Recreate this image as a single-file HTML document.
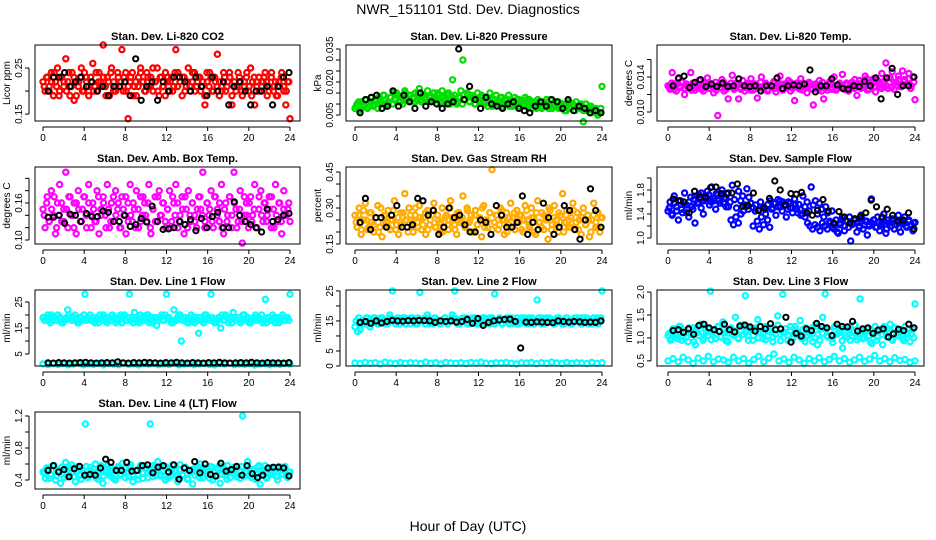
<!DOCTYPE html>
<html><head><meta charset="utf-8">
<style>
html,body{margin:0;padding:0;background:#fff;}
svg{display:block;font-family:"Liberation Sans",Arial,sans-serif;}
</style></head>
<body>
<svg id="chart" width="936" height="540" viewBox="0 0 936 540">
<text x="468" y="14" text-anchor="middle" font-size="14">NWR_151101  Std. Dev. Diagnostics</text>
<text x="468" y="531" text-anchor="middle" font-size="14">Hour of Day (UTC)</text>
</svg>
<script>
// ---- data ----
const hourTicks = [0,4,8,12,16,20,24];
const co2Vals = [0.22,0.20,0.23,0.21,0.24,0.19,0.22,0.25,0.20,0.23,0.21,0.27,0.22,0.19,0.24,0.18,0.22,0.21,0.23,0.20,0.24,0.22,0.19,0.23,0.26,0.21,0.20,0.24,0.22,0.30,0.21,0.23,0.19,0.25,0.22,0.20,0.24,0.21,0.29,0.23,0.20,0.14,0.22,0.24,0.21,0.19,0.23,0.25,0.22,0.20,0.24,0.21,0.23,0.20,0.22,0.25,0.19,0.23,0.21,0.24,0.22,0.20,0.23,0.21,0.29,0.24,0.22,0.19,0.23,0.21,0.25,0.20,0.22,0.24,0.21,0.23,0.20,0.22,0.17,0.24,0.21,0.23,0.20,0.22,0.28,0.19,0.21,0.24,0.20,0.22,0.23,0.17,0.21,0.20,0.24,0.22,0.19,0.21,0.23,0.20,0.25,0.22,0.17,0.21,0.23,0.20,0.22,0.24,0.19,0.21,0.23,0.20,0.22,0.19,0.21,0.24,0.20,0.17,0.22,0.14];
const co2Vals2 = [0.21,0.23,0.20,0.22,0.24,0.21,0.19,0.23,0.22,0.20,0.24,0.21,0.23,0.19,0.22,0.25,0.20,0.23,0.21,0.22,0.20,0.24,0.22,0.21,0.23,0.19,0.22,0.24,0.20,0.21,0.23,0.22,0.20,0.24,0.21,0.23,0.19,0.22,0.21,0.24,0.22,0.20,0.23,0.21,0.25,0.22,0.20,0.23,0.21,0.19,0.23,0.22,0.20,0.24,0.21,0.22,0.23,0.20,0.22,0.21,0.24,0.20,0.22,0.23,0.21,0.19,0.22,0.24,0.20,0.23,0.21,0.22,0.20,0.23,0.21,0.24,0.19,0.22,0.21,0.23,0.20,0.22,0.24,0.21,0.19,0.23,0.22,0.20,0.21,0.23,0.22,0.20,0.24,0.21,0.19,0.22,0.23,0.21,0.20,0.22];
const co2Ref = [0.20,0.23,0.23,0.24,0.21,0.22,0.23,0.21,0.22,0.20,0.21,0.19,0.21,0.21,0.22,0.19,0.27,0.18,0.21,0.22,0.18,0.22,0.20,0.23,0.23,0.22,0.20,0.23,0.21,0.19,0.23,0.20,0.22,0.17,0.21,0.22,0.20,0.17,0.20,0.20,0.21,0.17,0.21,0.23,0.24];
const presVals = [0.008,0.010,0.007,0.011,0.009,0.012,0.008,0.010,0.013,0.009,0.011,0.008,0.012,0.010,0.014,0.009,0.011,0.013,0.010,0.012,0.015,0.011,0.013,0.010,0.016,0.012,0.014,0.011,0.013,0.015,0.012,0.017,0.011,0.014,0.012,0.016,0.013,0.011,0.015,0.012,0.014,0.010,0.016,0.013,0.011,0.015,0.012,0.021,0.014,0.010,0.013,0.016,0.030,0.012,0.015,0.011,0.014,0.013,0.010,0.015,0.012,0.014,0.011,0.013,0.009,0.015,0.012,0.010,0.014,0.011,0.013,0.009,0.012,0.010,0.014,0.011,0.009,0.013,0.010,0.012,0.011,0.009,0.013,0.010,0.012,0.008,0.011,0.009,0.012,0.010,0.008,0.011,0.009,0.010,0.012,0.008,0.010,0.009,0.011,0.008,0.010,0.007,0.009,0.011,0.008,0.010,0.007,0.009,0.008,0.010,0.002,0.008,0.007,0.009,0.006,0.008,0.007,0.005,0.006,0.018];
const presVals2 = [0.009,0.011,0.008,0.010,0.012,0.009,0.011,0.010,0.012,0.013,0.011,0.014,0.012,0.010,0.013,0.015,0.012,0.014,0.011,0.013,0.015,0.012,0.014,0.013,0.011,0.015,0.012,0.014,0.013,0.011,0.014,0.012,0.013,0.015,0.011,0.013,0.012,0.014,0.010,0.013,0.012,0.011,0.013,0.010,0.012,0.014,0.011,0.013,0.010,0.012,0.011,0.013,0.010,0.012,0.011,0.009,0.012,0.010,0.011,0.013,0.010,0.012,0.009,0.011,0.010,0.012,0.009,0.011,0.010,0.012,0.009,0.011,0.010,0.008,0.011,0.009,0.010,0.012,0.008,0.010,0.009,0.011,0.008,0.010,0.009,0.007,0.010,0.008,0.009,0.011,0.008,0.009,0.007,0.010,0.008,0.009,0.007,0.008,0.006,0.008];
const presRef = [0.006,0.012,0.013,0.014,0.008,0.009,0.016,0.009,0.014,0.011,0.008,0.015,0.009,0.011,0.010,0.008,0.010,0.011,0.035,0.012,0.018,0.012,0.008,0.013,0.010,0.009,0.008,0.010,0.011,0.008,0.007,0.006,0.009,0.011,0.009,0.012,0.011,0.008,0.012,0.007,0.009,0.008,0.006,0.007,0.006];
const tempVals = [0.0130,0.0126,0.0145,0.0132,0.0124,0.0138,0.0128,0.0134,0.0120,0.0130,0.0127,0.0145,0.0133,0.0125,0.0131,0.0136,0.0128,0.0124,0.0132,0.0139,0.0127,0.0130,0.0122,0.0134,0.0096,0.0128,0.0137,0.0124,0.0131,0.0115,0.0129,0.0142,0.0126,0.0133,0.0115,0.0128,0.0136,0.0124,0.0131,0.0127,0.0138,0.0125,0.0132,0.0116,0.0129,0.0140,0.0126,0.0133,0.0124,0.0130,0.0128,0.0135,0.0123,0.0131,0.0141,0.0126,0.0132,0.0128,0.0136,0.0124,0.0130,0.0113,0.0133,0.0127,0.0138,0.0125,0.0131,0.0122,0.0134,0.0127,0.0108,0.0132,0.0126,0.0136,0.0124,0.0115,0.0130,0.0128,0.0135,0.0126,0.0140,0.0125,0.0131,0.0128,0.0143,0.0126,0.0133,0.0124,0.0131,0.0129,0.0137,0.0119,0.0132,0.0127,0.0135,0.0141,0.0125,0.0133,0.0130,0.0138,0.0123,0.0136,0.0128,0.0144,0.0132,0.0156,0.0127,0.0139,0.0146,0.0126,0.0134,0.0141,0.0129,0.0147,0.0137,0.0131,0.0144,0.0127,0.0140,0.0114];
const tempVals2 = [0.0128,0.0133,0.0126,0.0131,0.0129,0.0135,0.0127,0.0132,0.0130,0.0125,0.0133,0.0128,0.0131,0.0126,0.0134,0.0129,0.0127,0.0132,0.0130,0.0125,0.0131,0.0128,0.0134,0.0126,0.0130,0.0133,0.0127,0.0129,0.0132,0.0126,0.0130,0.0128,0.0133,0.0125,0.0131,0.0129,0.0127,0.0134,0.0128,0.0131,0.0126,0.0130,0.0133,0.0127,0.0129,0.0132,0.0125,0.0130,0.0128,0.0134,0.0127,0.0131,0.0129,0.0126,0.0133,0.0128,0.0130,0.0132,0.0126,0.0129,0.0131,0.0127,0.0134,0.0129,0.0125,0.0132,0.0128,0.0130,0.0127,0.0133,0.0129,0.0126,0.0131,0.0128,0.0134,0.0127,0.0130,0.0136,0.0128,0.0132,0.0138,0.0126,0.0133,0.0129,0.0137,0.0131,0.0127,0.0135,0.0130,0.0139,0.0128,0.0134,0.0131,0.0137,0.0129,0.0135,0.0132,0.0138,0.0130,0.0134];
const tempRef = [0.0130,0.0139,0.0141,0.0128,0.0134,0.0137,0.0129,0.0132,0.0129,0.0133,0.0129,0.0130,0.0138,0.0130,0.0129,0.0130,0.0124,0.0130,0.0130,0.0139,0.0127,0.0130,0.0131,0.0130,0.0132,0.0148,0.0123,0.0130,0.0130,0.0138,0.0131,0.0127,0.0126,0.0130,0.0129,0.0135,0.0130,0.0139,0.0115,0.0139,0.0150,0.0120,0.0130,0.0130,0.0140];
const boxVals = [0.15,0.12,0.17,0.13,0.18,0.14,0.11,0.16,0.19,0.13,0.15,0.21,0.12,0.17,0.14,0.16,0.11,0.18,0.13,0.15,0.17,0.12,0.19,0.14,0.16,0.13,0.18,0.11,0.15,0.17,0.14,0.19,0.12,0.16,0.13,0.18,0.15,0.12,0.17,0.14,0.11,0.16,0.19,0.13,0.15,0.18,0.12,0.17,0.14,0.16,0.13,0.19,0.11,0.15,0.17,0.13,0.18,0.14,0.16,0.12,0.15,0.18,0.13,0.16,0.19,0.12,0.14,0.17,0.11,0.15,0.18,0.13,0.16,0.14,0.12,0.17,0.15,0.21,0.13,0.16,0.14,0.18,0.12,0.17,0.15,0.13,0.19,0.11,0.16,0.14,0.17,0.12,0.21,0.15,0.13,0.18,0.095,0.14,0.16,0.12,0.17,0.14,0.19,0.12,0.15,0.18,0.13,0.16,0.14,0.17,0.12,0.15,0.19,0.13,0.16,0.11,0.18,0.14,0.15,0.13];
const boxVals2 = [0.14,0.16,0.13,0.15,0.17,0.12,0.14,0.16,0.13,0.15,0.17,0.14,0.12,0.16,0.15,0.13,0.17,0.14,0.16,0.12,0.15,0.13,0.17,0.14,0.16,0.12,0.15,0.13,0.17,0.14,0.16,0.12,0.15,0.17,0.13,0.14,0.16,0.12,0.15,0.13,0.17,0.14,0.16,0.12,0.15,0.13,0.17,0.14,0.16,0.13,0.15,0.12,0.17,0.14,0.16,0.13,0.15,0.17,0.12,0.14,0.16,0.13,0.15,0.17,0.14,0.12,0.16,0.15,0.13,0.17,0.14,0.16,0.12,0.15,0.13,0.17,0.14,0.16,0.12,0.15,0.13,0.17,0.14,0.16,0.13,0.15,0.12,0.17,0.14,0.16,0.13,0.15,0.17,0.12,0.14,0.16,0.13,0.15,0.14,0.16];
const boxRef = [0.137,0.137,0.14,0.127,0.142,0.14,0.13,0.143,0.138,0.138,0.147,0.145,0.13,0.13,0.14,0.122,0.125,0.135,0.129,0.155,0.13,0.117,0.118,0.12,0.13,0.125,0.133,0.115,0.135,0.12,0.138,0.145,0.12,0.12,0.162,0.14,0.13,0.125,0.12,0.113,0.15,0.13,0.133,0.14,0.143];
const rhVals = [0.27,0.22,0.30,0.19,0.25,0.32,0.21,0.28,0.24,0.20,0.26,0.31,0.22,0.18,0.27,0.24,0.29,0.21,0.25,0.33,0.23,0.19,0.28,0.26,0.36,0.22,0.30,0.25,0.20,0.27,0.24,0.31,0.21,0.26,0.19,0.29,0.23,0.27,0.32,0.22,0.25,0.20,0.30,0.24,0.27,0.21,0.33,0.26,0.23,0.19,0.28,0.25,0.35,0.22,0.30,0.24,0.27,0.20,0.29,0.23,0.26,0.18,0.31,0.25,0.22,0.28,0.46,0.24,0.27,0.21,0.30,0.25,0.19,0.28,0.23,0.32,0.26,0.21,0.29,0.24,0.27,0.20,0.31,0.25,0.22,0.30,0.26,0.19,0.33,0.24,0.28,0.21,0.26,0.17,0.29,0.23,0.31,0.25,0.20,0.27,0.36,0.24,0.29,0.22,0.26,0.32,0.21,0.28,0.25,0.19,0.30,0.23,0.27,0.18,0.25,0.32,0.22,0.28,0.20,0.26];
const rhVals2 = [0.24,0.27,0.21,0.29,0.25,0.22,0.28,0.23,0.26,0.20,0.30,0.24,0.27,0.22,0.25,0.29,0.21,0.26,0.23,0.28,0.25,0.20,0.27,0.24,0.30,0.22,0.26,0.23,0.28,0.21,0.25,0.29,0.22,0.27,0.24,0.20,0.26,0.23,0.30,0.25,0.21,0.28,0.24,0.26,0.22,0.29,0.25,0.20,0.27,0.23,0.26,0.30,0.22,0.25,0.28,0.21,0.24,0.27,0.23,0.29,0.25,0.20,0.26,0.22,0.28,0.24,0.27,0.21,0.25,0.29,0.23,0.26,0.20,0.28,0.24,0.22,0.27,0.25,0.30,0.21,0.26,0.23,0.28,0.24,0.20,0.27,0.25,0.22,0.29,0.24,0.21,0.26,0.28,0.23,0.25,0.20,0.27,0.24,0.22,0.26];
const rhRef = [0.24,0.34,0.21,0.26,0.26,0.22,0.27,0.31,0.22,0.22,0.23,0.34,0.33,0.27,0.29,0.19,0.22,0.30,0.26,0.27,0.23,0.20,0.20,0.25,0.24,0.19,0.31,0.27,0.22,0.22,0.24,0.35,0.19,0.24,0.21,0.32,0.26,0.19,0.22,0.31,0.29,0.21,0.17,0.25,0.38,0.29,0.22];
const flowVals = [1.45,1.60,1.38,1.70,1.52,1.30,1.62,1.42,1.75,1.55,1.35,1.68,1.48,1.25,1.58,1.72,1.50,1.40,1.65,1.78,1.55,1.85,1.62,1.48,1.72,1.58,1.80,1.66,1.52,1.75,1.60,1.88,1.64,1.50,1.78,1.62,1.70,1.55,1.82,1.68,1.58,1.20,1.45,1.28,1.15,1.35,1.22,1.40,1.30,1.18,1.48,1.58,1.38,1.52,1.62,1.45,1.55,1.35,1.60,1.50,1.42,1.65,1.48,1.56,1.38,1.70,1.52,1.60,1.45,1.85,1.55,1.62,1.40,1.58,1.48,1.35,1.52,1.42,1.25,1.45,1.15,1.30,1.08,1.22,1.35,1.12,1.28,1.18,0.95,1.25,1.32,1.10,1.20,1.38,1.15,1.28,1.05,1.22,1.65,1.30,1.18,1.35,1.12,1.25,1.40,1.08,1.30,1.20,1.32,1.15,1.28,1.38,1.10,1.24,1.35,1.18,1.30,1.22,1.12,1.26];
const flowVals2 = [1.50,1.40,1.58,1.45,1.62,1.48,1.55,1.42,1.60,1.52,1.65,1.70,1.58,1.75,1.62,1.68,1.72,1.60,1.66,1.74,1.62,1.70,1.58,1.66,1.52,1.30,1.22,1.35,1.25,1.40,1.45,1.52,1.48,1.58,1.50,1.55,1.46,1.60,1.52,1.48,1.56,1.62,1.50,1.58,1.64,1.52,1.60,1.55,1.48,1.58,1.50,1.55,1.42,1.48,1.40,1.35,1.25,1.20,1.15,1.22,1.18,1.12,1.25,1.20,1.15,1.28,1.18,1.22,1.10,1.25,1.30,1.20,1.28,1.35,1.22,1.30,1.25,1.18,1.32,1.22,1.28,1.20,1.25,1.30,1.18,1.26,1.22,1.28,1.15,1.25,1.20,1.30,1.22,1.18,1.26,1.24,1.20,1.28,1.22,1.25];
const flowRef = [1.65,1.62,1.60,1.42,1.78,1.68,1.68,1.84,1.85,1.74,1.74,1.75,1.90,1.53,1.54,1.75,1.46,1.50,1.66,1.95,1.80,1.55,1.74,1.73,1.76,1.42,1.38,1.46,1.64,1.45,1.25,1.44,1.35,1.25,1.32,1.35,1.42,1.63,1.52,1.35,1.48,1.38,1.28,1.30,1.42,1.15];
const line1Vals = [19,18,20,17,19,18,20,19,17,18,22,19,18,20,17,19,18,28,19,20,18,17,19,20,18,19,17,18,20,19,18,19,17,20,18,28,19,21,18,17,19,18,20,17,19,18,16,19,20,18,28,19,17,22,18,20,10,19,18,17,20,18,19,13,18,17,20,19,28,18,17,19,15,18,20,17,19,21,18,19,17,20,18,19,17,18,20,19,18,17,26,19,18,20,17,19,18,20,18,19,28];
const line1Vals2 = [18,19,18,20,19,18,19,17,18,19,20,18,19,18,17,19,20,18,19,18,19,18,17,19,20,18,19,18,19,17,18,20,19,18,19,18,17,19,18,20,18,19,20,18,17,19,18,19,18,20,19,18,17,18,19,20,18,19,17,18,19,17,18,19,18,20,19,18,19,17,18,19,20,18,19,18,17,19,18,19,18,20,19,17,18,19,18,19,20,18,17,19,18,19,18,17,19,18,19,18];
const line1Low = [1.2,0.9,1.4,1.0,1.3,0.8,1.1,1.5,0.9,1.2,1.0,1.4,0.8,1.3,1.1,0.9,1.5,1.0,1.2,0.8,1.3,1.1,1.4,0.9,1.2,1.0,1.5,0.8,1.1,1.3,0.9,1.2,1.4,1.0,0.8,1.3,1.1,1.5,0.9,1.2,1.0,1.4,0.8,1.1,1.3,0.9,1.2,1.0,1.4,1.1];
const line1Ref = [1.6,1.5,1.7,1.6,1.5,1.6,1.7,1.8,1.6,1.5,1.6,1.7,1.6,2.0,1.6,1.5,1.7,1.6,1.8,1.7,1.6,1.5,1.7,1.6,1.8,1.6,1.5,1.7,1.6,1.5,1.7,1.6,1.8,1.6,1.5,1.6,1.7,1.6,1.8,1.6,1.5,1.7,1.6,1.6,1.5,1.7];
const line2Vals = [13,11.5,12,15,14,16,13,15,16,14,15,16,15,14,17,25,15,16,14,15,16,15,14,16,15,14,24.5,15,16,17,14,15,16,15,14,15,16,14,15,17,25,15,14,16,15,16,14,15,16,15,14,15,16,15,14,16,24,15,16,14,15,16,15,14,15,16,14,15,16,15,14,16,15,22,15,16,14,15,16,15,14,16,15,14,15,16,15,14,16,15,16,14,15,16,15,14,15,16,15,25];
const line2Vals2 = [15,16,14,15,16,15,14,16,15,14,16,15,14,15,16,15,14,16,15,16,14,15,16,15,14,16,15,15,14,16,15,14,16,15,14,15,16,14,15,16,16,14,15,15,16,14,15,16,15,14,15,16,14,15,16,15,14,15,16,14,15,16,14,16,15,14,15,16,15,14,16,15,14,15,16,14,15,16,15,15,14,15,16,15,14,16,15,14,15,16,15,14,16,15,14,15,16,15,14,16];
const line2Low = [1.0,0.8,1.2,0.9,1.1,0.7,1.3,1.0,0.8,1.2,0.9,1.1,1.0,0.8,1.3,0.9,1.1,0.7,1.2,1.0,0.9,1.1,0.8,1.2,1.0,1.3,0.9,0.8,1.1,1.0,1.2,0.9,0.7,1.1,1.0,1.2,0.8,1.1,0.9,1.3,1.0,0.8,1.2,0.9,1.1,1.0,0.8,1.2,0.9,1.1];
const line2Ref = [14.5,14.8,14.2,15,14.3,14.8,15.2,15.0,14.9,15.1,15.0,15.2,15.1,15.0,14.5,15.0,14.8,15.0,14.6,14.8,15.5,14.2,15.8,13.5,14.5,15.0,15.3,15.5,15.6,14.8,6.0,14.6,14.5,14.7,14.6,14.5,14.4,15.0,14.8,14.6,14.8,14.7,14.5,14.6,14.5,15.0];
const line3Vals = [1.05,0.95,1.20,1.10,0.98,1.25,1.02,1.15,0.92,1.08,1.22,0.85,1.12,1.30,0.95,1.18,1.05,2.02,1.10,0.98,1.25,1.02,1.35,1.12,0.92,1.20,1.08,1.45,1.00,1.15,1.28,1.92,1.05,1.18,0.95,1.22,1.40,1.10,0.98,1.25,1.05,1.15,0.92,1.20,1.48,1.08,1.95,1.12,0.95,1.25,1.02,1.18,1.10,1.38,0.98,1.22,1.05,1.15,0.92,1.28,1.08,1.20,1.45,1.96,1.02,1.15,0.90,1.25,1.10,1.18,0.78,1.05,1.22,0.95,1.12,1.28,1.02,1.85,0.98,1.15,1.20,0.92,1.08,1.25,1.02,1.15,0.85,1.18,1.10,1.30,0.95,1.22,1.05,1.12,0.98,1.25,1.08,0.92,1.18,1.74];
const line3Vals2 = [1.10,0.98,1.20,1.05,1.25,0.95,1.15,1.02,1.22,1.08,0.92,1.18,1.05,1.28,1.00,1.12,1.20,0.96,1.15,1.08,1.25,1.02,1.18,0.94,1.10,1.22,1.05,1.15,0.98,1.28,1.08,1.12,0.95,1.20,1.05,1.18,1.00,1.25,1.10,0.96,1.15,1.22,1.02,1.08,1.28,0.94,1.12,1.20,1.05,1.16,0.98,1.25,1.10,1.02,1.18,0.92,1.15,1.08,1.22,1.00,0.85,0.95,1.10,1.20,1.05,1.15,0.98,1.25,1.08,1.12,0.94,1.22,1.02,1.18,1.05,1.28,0.96,1.10,1.15,1.00,1.20,1.05,0.88,1.12,0.95,1.18,1.08,1.25,1.02,1.15,0.98,1.22,1.10,1.05,1.18,0.94,1.12,1.20,1.08,1.00];
const line3Low = [0.50,0.55,0.48,0.58,0.52,0.45,0.56,0.50,0.60,0.48,0.54,0.52,0.47,0.58,0.50,0.55,0.45,0.53,0.60,0.48,0.56,0.65,0.50,0.54,0.47,0.58,0.52,0.45,0.55,0.50,0.57,0.48,0.53,0.60,0.50,0.55,0.47,0.52,0.58,0.49,0.54,0.62,0.50,0.55,0.48,0.57,0.51,0.53,0.47,0.50];
const line3Ref = [1.16,1.18,1.12,1.20,1.08,1.27,1.30,1.22,1.18,1.14,1.30,1.18,1.13,1.26,1.28,1.24,1.15,1.25,1.20,1.31,1.18,1.20,1.45,0.91,1.10,1.04,1.20,1.16,1.32,1.25,1.22,1.05,1.30,1.25,1.24,1.36,1.15,1.20,1.22,1.10,1.17,1.20,1.02,1.09,1.19,1.16,1.30,1.22];
const line4Vals = [0.50,0.42,0.55,0.46,0.58,0.40,0.52,0.36,0.48,0.62,0.44,0.55,0.50,0.38,0.57,0.46,0.52,1.10,0.43,0.56,0.48,0.60,0.41,0.53,0.36,0.50,0.58,0.45,0.52,0.40,0.55,0.47,0.61,0.43,0.50,0.56,0.38,0.52,0.46,0.58,0.42,0.54,0.49,1.10,0.44,0.57,0.63,0.47,0.52,0.40,0.55,0.45,0.59,0.50,0.38,0.53,0.46,0.56,0.42,0.51,0.35,0.55,0.48,0.60,0.43,0.52,0.47,0.57,0.40,0.50,0.54,0.36,0.53,0.46,0.58,0.43,0.51,0.48,0.55,0.42,1.20,0.50,0.63,0.46,0.53,0.41,0.56,0.35,0.50,0.58,0.44,0.52,0.47,0.55,0.40,0.53,0.48,0.57,0.43,0.50];
const line4Vals2 = [0.48,0.55,0.42,0.52,0.58,0.45,0.50,0.56,0.43,0.53,0.47,0.59,0.44,0.51,0.55,0.41,0.49,0.57,0.46,0.52,0.54,0.43,0.50,0.58,0.45,0.53,0.48,0.56,0.42,0.51,0.57,0.46,0.50,0.54,0.44,0.59,0.47,0.52,0.41,0.55,0.49,0.56,0.43,0.51,0.58,0.46,0.53,0.45,0.50,0.57,0.42,0.54,0.48,0.52,0.44,0.59,0.47,0.55,0.41,0.50,0.53,0.46,0.57,0.43,0.51,0.55,0.48,0.42,0.56,0.50,0.45,0.58,0.47,0.53,0.41,0.52,0.49,0.56,0.44,0.51,0.57,0.45,0.50,0.54,0.43,0.52,0.48,0.58,0.46,0.53,0.42,0.55,0.49,0.51,0.44,0.57,0.47,0.52,0.45,0.50];
const line4Ref = [0.52,0.58,0.50,0.53,0.44,0.54,0.57,0.46,0.47,0.46,0.55,0.66,0.62,0.52,0.52,0.62,0.51,0.52,0.58,0.59,0.49,0.56,0.58,0.50,0.59,0.41,0.55,0.52,0.63,0.49,0.60,0.47,0.45,0.61,0.51,0.53,0.57,0.46,0.58,0.48,0.43,0.46,0.55,0.56,0.56,0.55,0.45];

const panels = [
 {name:"co2",title:"Stan. Dev. Li-820 CO2",ylab:"Licor ppm",col:0,row:0,lo:0.135,hi:0.30,ticks:[0.15,0.20,0.25],labels:["0.15","","0.25"],series:[{v:co2Vals,c:"#ff0000"},{v:co2Vals2,c:"#ff0000",off:1},{v:co2Ref,c:"#000",ref:1}]},
 {name:"pressure",title:"Stan. Dev. Li-820 Pressure",ylab:"kPa",col:1,row:0,lo:0.0023,hi:0.0368,ticks:[0.005,0.010,0.015,0.020,0.025,0.030,0.035],labels:["0.005","","","0.020","","","0.035"],series:[{v:presVals,c:"#00dd00"},{v:presVals2,c:"#00dd00",off:1},{v:presRef,c:"#000",ref:1}]},
 {name:"licor-temp",title:"Stan. Dev. Li-820 Temp.",ylab:"degrees C",col:2,row:0,lo:0.00897,hi:0.01766,ticks:[0.010,0.012,0.014,0.016],labels:["0.010","","0.014",""],series:[{v:tempVals,c:"#ff00ff"},{v:tempVals2,c:"#ff00ff",off:1},{v:tempRef,c:"#000",ref:1}]},
 {name:"box-temp",title:"Stan. Dev. Amb. Box Temp.",ylab:"degrees C",col:0,row:1,lo:0.0935,hi:0.2184,ticks:[0.10,0.12,0.14,0.16,0.18,0.20],labels:["0.10","","","0.16","",""],series:[{v:boxVals,c:"#ff00ff"},{v:boxVals2,c:"#ff00ff",off:1},{v:boxRef,c:"#000",ref:1}]},
 {name:"gas-rh",title:"Stan. Dev. Gas Stream RH",ylab:"percent",col:1,row:1,lo:0.15,hi:0.471,ticks:[0.15,0.20,0.25,0.30,0.35,0.40,0.45],labels:["0.15","","","0.30","","","0.45"],series:[{v:rhVals,c:"#ffa500"},{v:rhVals2,c:"#ffb000",off:1},{v:rhRef,c:"#000",ref:1}]},
 {name:"sample-flow",title:"Stan. Dev. Sample Flow",ylab:"ml/min",col:2,row:1,lo:0.90,hi:2.183,ticks:[1.0,1.2,1.4,1.6,1.8,2.0],labels:["1.0","","1.4","","1.8",""],series:[{v:flowVals,c:"#0000ff"},{v:flowVals2,c:"#0000ff",off:1},{v:flowRef,c:"#000",ref:1}]},
 {name:"line1-flow",title:"Stan. Dev. Line 1 Flow",ylab:"ml/min",col:0,row:2,lo:0.385,hi:29.6,ticks:[5,10,15,20,25],labels:["5","","15","","25"],series:[{v:line1Vals,c:"#00ffff"},{v:line1Vals2,c:"#00ffff",off:1},{v:line1Low,c:"#00ffff"},{v:line1Ref,c:"#000",ref:1}]},
 {name:"line2-flow",title:"Stan. Dev. Line 2 Flow",ylab:"ml/min",col:1,row:2,lo:0,hi:25.3,ticks:[0,5,10,15,20,25],labels:["0","5","","15","","25"],series:[{v:line2Vals,c:"#00ffff"},{v:line2Vals2,c:"#00ffff",off:1},{v:line2Low,c:"#00ffff"},{v:line2Ref,c:"#000",ref:1}]},
 {name:"line3-flow",title:"Stan. Dev. Line 3 Flow",ylab:"ml/min",col:2,row:2,lo:0.388,hi:2.045,ticks:[0.5,1.0,1.5,2.0],labels:["0.5","1.0","1.5","2.0"],series:[{v:line3Vals,c:"#00ffff"},{v:line3Vals2,c:"#00ffff",off:1},{v:line3Low,c:"#00ffff"},{v:line3Ref,c:"#000",ref:1}]},
 {name:"line4-flow",title:"Stan. Dev. Line 4 (LT) Flow",ylab:"ml/min",col:0,row:3,lo:0.2875,hi:1.25,ticks:[0.4,0.6,0.8,1.0,1.2],labels:["0.4","","0.8","","1.2"],series:[{v:line4Vals,c:"#00ffff"},{v:line4Vals2,c:"#00ffff",off:1},{v:line4Ref,c:"#000",ref:1}]}
];

const NS="http://www.w3.org/2000/svg";
const svg=document.getElementById("chart");
const boxL=[35,346,657], boxR=[300,612,924], x0s=[43,355,668], XW=247;
const rowT=[45,167,290,412], rowB=[121,244,366,489];
function mk(tag,attrs,parent){const e=document.createElementNS(NS,tag);for(const k in attrs)e.setAttribute(k,attrs[k]);(parent||svg).appendChild(e);return e;}

panels.forEach(p=>{
  const g=mk("g",{});
  
  
  const L=boxL[p.col],R=boxR[p.col],T=rowT[p.row],B=rowB[p.row],X0=x0s[p.col];
  const xs=h=>X0+h/24*XW;
  const ys=v=>B-(v-p.lo)/(p.hi-p.lo)*(B-T);
  p.series.forEach((s,si)=>{
    const sg=mk("g",{fill:"none",stroke:s.c,"stroke-width":s.ref?2:2.2},g);
    
    
    const n=s.v.length;
    s.v.forEach((v,i)=>{
      const h=s.ref?0.5+23.4*i/(n-1):(s.off?24*(i+0.5)/n:24*i/(n-1));
      const c=mk("circle",{cx:xs(h).toFixed(1),cy:ys(v).toFixed(1),r:2.6},sg);
      
      
    });
  });
  const box=mk("rect",{x:L,y:T,width:R-L,height:B-T,fill:"none",stroke:"#000","stroke-width":1},g);
  
  
  const t=mk("text",{x:(L+R)/2,y:T-5,"text-anchor":"middle","font-size":11,"font-weight":"bold"},g);
  t.textContent=p.title;
  
  
  mk("line",{x1:xs(0),x2:xs(24),y1:B+6,y2:B+6,stroke:"#000"},g);
  hourTicks.forEach(h=>{
    mk("line",{x1:xs(h),x2:xs(h),y1:B+6,y2:B+10,stroke:"#000"},g);
    const tl=mk("text",{x:xs(h),y:B+20,"text-anchor":"middle","font-size":10},g);
    tl.textContent=h;
    
    
  });
  const yt0=ys(p.ticks[0]),yt1=ys(p.ticks[p.ticks.length-1]);
  mk("line",{x1:L-6,x2:L-6,y1:yt0,y2:yt1,stroke:"#000"},g);
  p.ticks.forEach((v,i)=>{
    const y=ys(v);
    mk("line",{x1:L-10,x2:L-6,y1:y,y2:y,stroke:"#000"},g);
    if(p.labels[i]){
      const yl=mk("text",{x:0,y:0,"text-anchor":"middle","font-size":10,transform:`translate(${L-13},${y}) rotate(-90)`},g);
      yl.textContent=p.labels[i];
      
      
    }
  });
  const ya=mk("text",{x:0,y:0,"text-anchor":"middle","font-size":10,transform:`translate(${L-25},${(T+B)/2}) rotate(-90)`},g);
  ya.textContent=p.ylab;
  
  
});
</script>
</body></html>
